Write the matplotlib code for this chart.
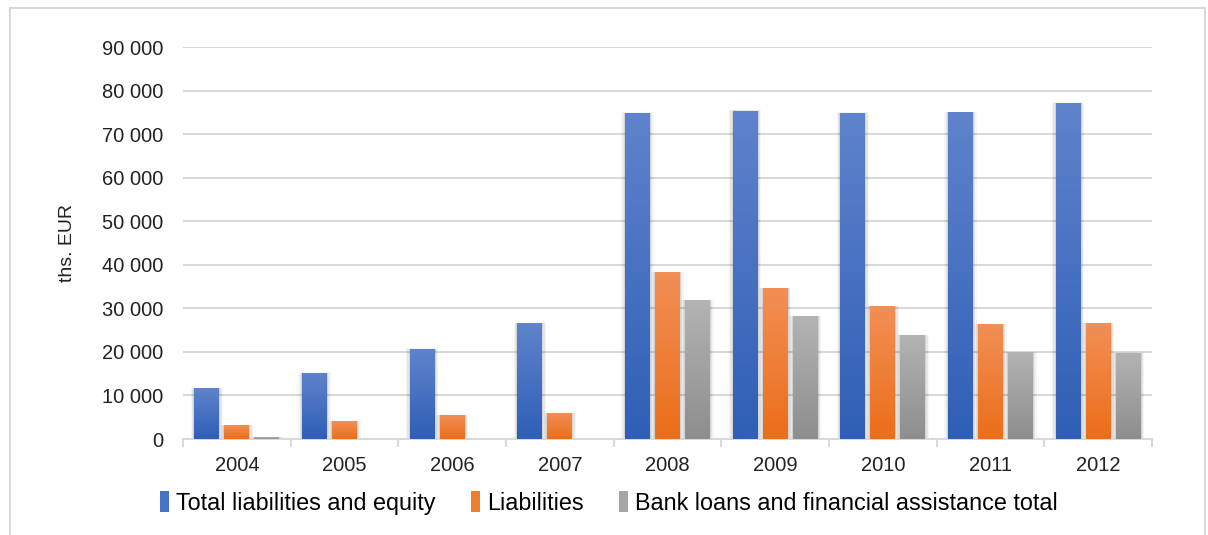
import numpy as np
import matplotlib; matplotlib.use("Agg")
import matplotlib.pyplot as plt
from matplotlib.patches import Patch, Rectangle
from matplotlib.ticker import FuncFormatter, FixedLocator

years = ["2004", "2005", "2006", "2007", "2008", "2009", "2010", "2011", "2012"]
total = [11700, 15200, 20700, 26600, 74900, 75400, 74900, 75100, 77200]
liab = [3200, 4100, 5500, 6000, 38300, 34700, 30500, 26400, 26600]
bank = [400, 0, 0, 0, 31900, 28200, 23900, 20000, 19800]
labels = ["Total liabilities and equity", "Liabilities", "Bank loans and financial assistance total"]

# (top colour, bottom colour) for the Excel-like gradient
GRAD = [("#5f83cc", "#2f5fb6"), ("#f28f55", "#eb6e1a"), ("#b3b3b3", "#8e8e8e")]
MID = ["#4472c4", "#ed7d31", "#a5a5a5"]
GRID = "#d9d9d9"
FT = ["Liberation Sans", "DejaVu Sans"]

fig = plt.figure(figsize=(12.08, 5.35), dpi=100)
ax = fig.add_axes([0.1515, 0.1794, 0.8021, 0.7327])
fig.patches.append(Rectangle((10/1208, -0.05), 1195/1208, 1 - 8/535 + 0.05, transform=fig.transFigure,
                             fill=False, ec=GRID, lw=1.5, zorder=0))

x = np.arange(len(years))
w, step = 0.232, 0.2786
for i, vals in enumerate([total, liab, bank]):
    bars = ax.bar(x + (i - 1) * step, vals, w, color="none", zorder=3)
    top, bot = [np.array(matplotlib.colors.to_rgb(c)) for c in GRAD[i]]
    grad = np.linspace(0, 1, 64)[:, None, None]
    img = (top * (1 - grad) + bot * grad)
    for b in bars:
        bx, by, bw, bh = b.get_x(), b.get_y(), b.get_width(), b.get_height()
        if bh <= 0:
            continue
        # soft shadow
        for k, a in [(0.035, 0.04), (0.022, 0.06), (0.01, 0.08)]:
            ax.add_patch(Rectangle((bx - k, by), bw + 2 * k, bh + k * 2500, color="black", alpha=a, lw=0, zorder=2))
        im = ax.imshow(img, extent=[bx, bx + bw, by, by + bh], aspect="auto", zorder=4, interpolation="bilinear")
        im.set_clip_path(b)

ax.set_xlim(-0.5, 8.5)
ax.set_ylim(0, 90000)
ax.set_yticks(np.arange(0, 90001, 10000))
ax.yaxis.set_major_formatter(FuncFormatter(lambda v, p: f"{int(v):,}".replace(",", " ")))
ax.set_xticks(x)
ax.set_xticklabels(years)
ax.xaxis.set_minor_locator(FixedLocator(np.arange(-0.5, 9, 1)))
ax.tick_params(axis="x", which="major", length=0, pad=12)
ax.tick_params(axis="x", which="minor", length=6, color=GRID, width=1.5)
ax.tick_params(axis="y", length=0, pad=14)
for lab in ax.get_xticklabels() + ax.get_yticklabels():
    lab.set_fontfamily(FT); lab.set_fontsize(14.5); lab.set_color("#222222")
ax.grid(axis="y", color=GRID, lw=1.5, zorder=0)
ax.set_axisbelow(True)
for s in ["top", "right", "left"]:
    ax.spines[s].set_visible(False)
ax.spines["bottom"].set_color(GRID)
ax.spines["bottom"].set_linewidth(1.5)
ax.set_ylabel("ths. EUR", fontsize=14, family=FT, color="#222222", labelpad=19)

handles = [Patch(facecolor=c, label=l) for c, l in zip(MID, labels)]
fig.legend(handles=handles, loc="center", bbox_to_anchor=(0.504, 1 - 503/535), ncol=3, frameon=False,
           prop={"family": FT, "size": 16.8}, handlelength=0.4, handleheight=0.95, handletextpad=0.3,
           columnspacing=1.5)

fig.savefig("out.png", dpi=100)
